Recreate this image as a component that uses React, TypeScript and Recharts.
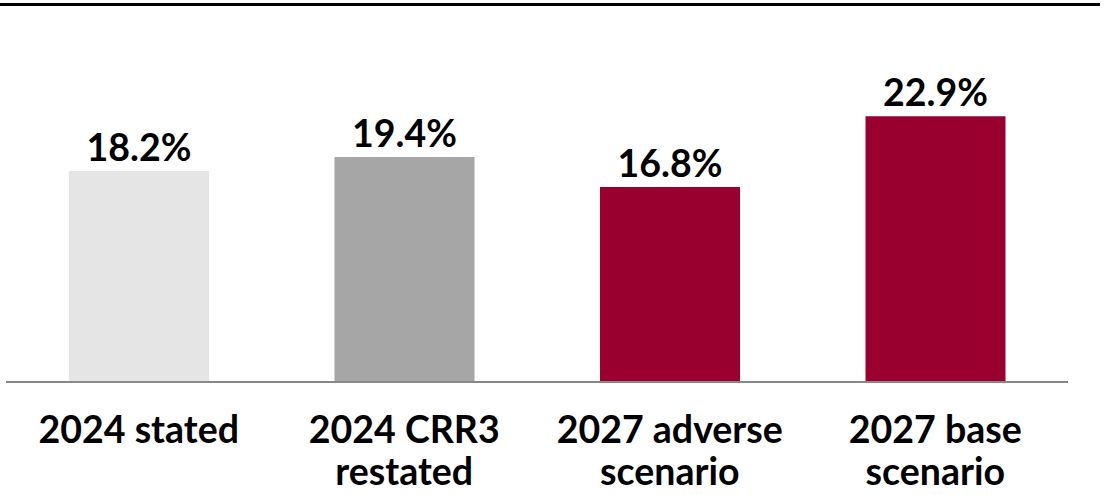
import * as React from "react";
import { BarChart, Bar, Cell, XAxis, YAxis, LabelList } from "recharts";

const categories = ["2024 stated", "2024 CRR3 restated", "2027 adverse scenario", "2027 base scenario"];
const tickLines = [["2024 stated"], ["2024 CRR3", "restated"], ["2027 adverse", "scenario"], ["2027 base", "scenario"]];
const values = [18.2, 19.4, 16.8, 22.9];
const colors = ["#e5e5e5", "#a6a6a6", "#990030", "#990030"];

const data = categories.map((c, i) => ({ name: c, value: values[i] }));

const font = "Lato, 'Open Sans', sans-serif";

function Tick(props: any) {
  const { x, y, payload } = props;
  const lines = tickLines[payload.index] ?? [payload.value];
  return (
    <text x={x} y={y} textAnchor="middle" fontFamily={font} fontWeight={700} fontSize={37.5} fill="#000">
      {lines.map((l, i) => (
        <tspan key={i} x={x} dy={i === 0 ? 53 : 42}>
          {l}
        </tspan>
      ))}
    </text>
  );
}

export default function App() {
  return (
    <div style={{ position: "absolute", left: 0, top: 0, width: 1109, height: 495, background: "#fff" }}>
      <div style={{ position: "absolute", left: 0, top: 3, width: 1100, height: 3, background: "#000" }} />
      <BarChart width={1109} height={495} data={data} margin={{ top: 34, right: 41, left: 6, bottom: 0 }}>
        <XAxis
          dataKey="name"
          height={113}
          interval={0}
          tickLine={false}
          axisLine={{ stroke: "#888", strokeWidth: 2 }}
          tick={<Tick />}
        />
        <YAxis hide domain={[0, 30]} />
        <Bar dataKey="value" barSize={140} isAnimationActive={false}>
          {data.map((_, i) => (
            <Cell key={i} fill={colors[i]} />
          ))}
          <LabelList
            dataKey="value"
            position="top"
            offset={10}
            formatter={(v: any) => `${Number(v).toFixed(1)}%`}
            style={{ fontFamily: font, fontWeight: 700, fontSize: 37.5, fill: "#000" }}
          />
        </Bar>
      </BarChart>
    </div>
  );
}
